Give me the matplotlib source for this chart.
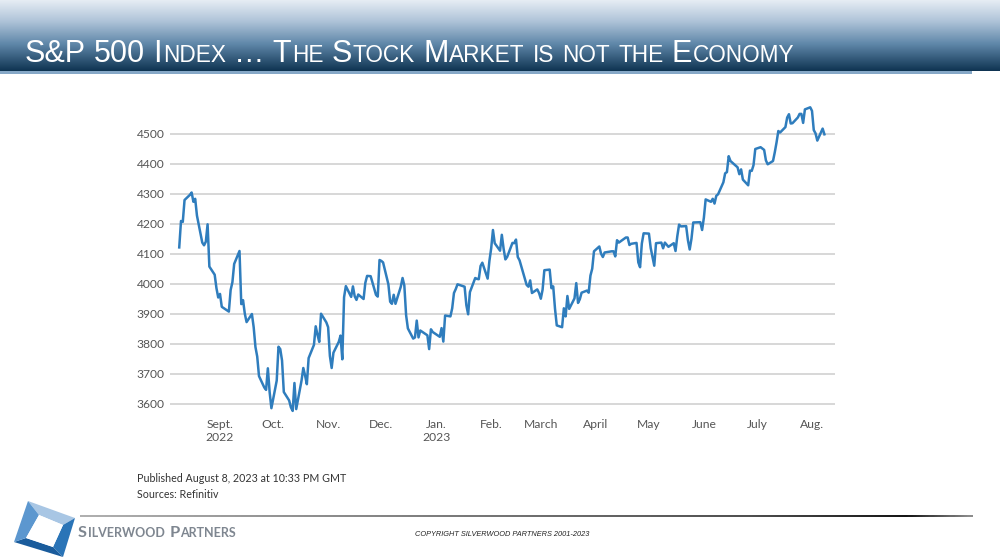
import numpy as np
import pandas as pd
import matplotlib
matplotlib.use("Agg")
import matplotlib.pyplot as plt
import matplotlib.dates as mdates
from matplotlib import font_manager
from matplotlib.colors import LinearSegmentedColormap
from matplotlib.patches import Polygon


#####################
### Data
#####################
dates = [
    "2022-08-09", "2022-08-10", "2022-08-11", "2022-08-12", "2022-08-15", "2022-08-16", "2022-08-17",
    "2022-08-18", "2022-08-19", "2022-08-22", "2022-08-23", "2022-08-24", "2022-08-25", "2022-08-26",
    "2022-08-29", "2022-08-30", "2022-08-31",
    "2022-09-01", "2022-09-02", "2022-09-06", "2022-09-07", "2022-09-08", "2022-09-09", "2022-09-12",
    "2022-09-13", "2022-09-14", "2022-09-15", "2022-09-16", "2022-09-19", "2022-09-20", "2022-09-21",
    "2022-09-22", "2022-09-23", "2022-09-26", "2022-09-27", "2022-09-28", "2022-09-29", "2022-09-30",
    "2022-10-03", "2022-10-04", "2022-10-05", "2022-10-06", "2022-10-07", "2022-10-10", "2022-10-11",
    "2022-10-12", "2022-10-13", "2022-10-14", "2022-10-17", "2022-10-18", "2022-10-19", "2022-10-20",
    "2022-10-21", "2022-10-24", "2022-10-25", "2022-10-26", "2022-10-27", "2022-10-28", "2022-10-31",
    "2022-11-01", "2022-11-02", "2022-11-03", "2022-11-04", "2022-11-07", "2022-11-08", "2022-11-09",
    "2022-11-10", "2022-11-11", "2022-11-14", "2022-11-15", "2022-11-16", "2022-11-17", "2022-11-18",
    "2022-11-21", "2022-11-22", "2022-11-23", "2022-11-25", "2022-11-28", "2022-11-29", "2022-11-30",
    "2022-12-01", "2022-12-02", "2022-12-05", "2022-12-06", "2022-12-07", "2022-12-08", "2022-12-09",
    "2022-12-12", "2022-12-13", "2022-12-14", "2022-12-15", "2022-12-16", "2022-12-19", "2022-12-20",
    "2022-12-21", "2022-12-22", "2022-12-23", "2022-12-27", "2022-12-28", "2022-12-29", "2022-12-30",
    "2023-01-03", "2023-01-04", "2023-01-05", "2023-01-06", "2023-01-09", "2023-01-10", "2023-01-11",
    "2023-01-12", "2023-01-13", "2023-01-17", "2023-01-18", "2023-01-19", "2023-01-20", "2023-01-23",
    "2023-01-24", "2023-01-25", "2023-01-26", "2023-01-27", "2023-01-30", "2023-01-31",
    "2023-02-01", "2023-02-02", "2023-02-03", "2023-02-06", "2023-02-07", "2023-02-08", "2023-02-09",
    "2023-02-10", "2023-02-13", "2023-02-14", "2023-02-15", "2023-02-16", "2023-02-17", "2023-02-21",
    "2023-02-22", "2023-02-23", "2023-02-24", "2023-02-27", "2023-02-28",
    "2023-03-01", "2023-03-02", "2023-03-03", "2023-03-06", "2023-03-07", "2023-03-08", "2023-03-09",
    "2023-03-10", "2023-03-13", "2023-03-14", "2023-03-15", "2023-03-16", "2023-03-17", "2023-03-20",
    "2023-03-21", "2023-03-22", "2023-03-23", "2023-03-24", "2023-03-27", "2023-03-28", "2023-03-29",
    "2023-03-30", "2023-03-31",
    "2023-04-03", "2023-04-04", "2023-04-05", "2023-04-06", "2023-04-10", "2023-04-11", "2023-04-12",
    "2023-04-13", "2023-04-14", "2023-04-17", "2023-04-18", "2023-04-19", "2023-04-20", "2023-04-21",
    "2023-04-24", "2023-04-25", "2023-04-26", "2023-04-27", "2023-04-28",
    "2023-05-01", "2023-05-02", "2023-05-03", "2023-05-04", "2023-05-05", "2023-05-08", "2023-05-09",
    "2023-05-10", "2023-05-11", "2023-05-12", "2023-05-15", "2023-05-16", "2023-05-17", "2023-05-18",
    "2023-05-19", "2023-05-22", "2023-05-23", "2023-05-24", "2023-05-25", "2023-05-26", "2023-05-30",
    "2023-05-31",
    "2023-06-01", "2023-06-02", "2023-06-05", "2023-06-06", "2023-06-07", "2023-06-08", "2023-06-09",
    "2023-06-12", "2023-06-13", "2023-06-14", "2023-06-15", "2023-06-16", "2023-06-20", "2023-06-21",
    "2023-06-22", "2023-06-23", "2023-06-26", "2023-06-27", "2023-06-28", "2023-06-29", "2023-06-30",
    "2023-07-03", "2023-07-05", "2023-07-06", "2023-07-07", "2023-07-10", "2023-07-11", "2023-07-12",
    "2023-07-13", "2023-07-14", "2023-07-17", "2023-07-18", "2023-07-19", "2023-07-20", "2023-07-21",
    "2023-07-24", "2023-07-25", "2023-07-26", "2023-07-27", "2023-07-28", "2023-07-31",
    "2023-08-01", "2023-08-02", "2023-08-03", "2023-08-04", "2023-08-07", "2023-08-08",
]
closes = [
    4122, 4210, 4207, 4280, 4297, 4305, 4274, 4284, 4228, 4138, 4129, 4141, 4199, 4058, 4031, 3986, 3955,
    3967, 3924, 3908, 3980, 4006, 4067, 4110, 3933, 3946, 3901, 3873, 3900, 3856, 3790, 3758, 3693, 3655,
    3647, 3719, 3640, 3586,
    3678, 3791, 3783, 3745, 3640, 3612, 3589, 3577, 3670, 3583, 3678, 3720, 3695, 3666, 3753, 3797, 3859,
    3831, 3807, 3901, 3872,
    3856, 3760, 3720, 3771, 3807, 3828, 3749, 3956, 3993, 3957, 3992, 3959, 3947, 3965, 3950, 4004, 4027,
    4026, 3964, 3958, 4080,
    4077, 4072, 3999, 3941, 3934, 3964, 3934, 3991, 4020, 3995, 3896, 3852, 3818, 3822, 3878, 3822, 3845,
    3829, 3783, 3849, 3840,
    3824, 3853, 3808, 3895, 3892, 3919, 3970, 3983, 3999, 3991, 3929, 3899, 3973, 4020, 4017, 4016, 4060,
    4071, 4018, 4077,
    4119, 4180, 4136, 4111, 4164, 4118, 4082, 4090, 4137, 4136, 4148, 4090, 4079, 3997, 3991, 4012, 3970,
    3982, 3970,
    3951, 3981, 4046, 4048, 3986, 3992, 3918, 3862, 3856, 3919, 3892, 3960, 3917, 3952, 4003, 3937, 3949,
    3971, 3978, 3971, 4028, 4051, 4109,
    4125, 4101, 4090, 4105, 4109, 4109, 4092, 4146, 4138, 4151, 4155, 4155, 4130, 4134, 4137, 4072, 4056,
    4135, 4169,
    4168, 4120, 4091, 4061, 4136, 4138, 4119, 4138, 4131, 4124, 4136, 4110, 4159, 4198, 4192, 4193, 4146,
    4115, 4151, 4205, 4206, 4180,
    4221, 4282, 4274, 4284, 4268, 4294, 4299, 4339, 4369, 4373, 4426, 4410, 4389, 4366, 4382, 4348, 4329,
    4378, 4377, 4396, 4450,
    4456, 4447, 4412, 4399, 4410, 4439, 4472, 4510, 4505, 4523, 4555, 4566, 4535, 4536, 4555, 4567, 4567,
    4537, 4582, 4589,
    4577, 4513, 4502, 4478, 4518, 4499,
]

tick_dates = ["2022-09-01", "2022-10-01", "2022-11-01", "2022-12-01", "2023-01-01", "2023-02-01",
              "2023-03-01", "2023-04-01", "2023-05-01", "2023-06-01", "2023-07-01", "2023-08-01"]
tick_labels = ["Sept.\n2022", "Oct.", "Nov.", "Dec.", "Jan.\n2023", "Feb.", "March",
               "April", "May", "June", "July", "Aug."]
y_ticks = [3600, 3700, 3800, 3900, 4000, 4100, 4200, 4300, 4400, 4500]

title = "S&P 500 Index \u2026 The Stock Market is not the Economy"
note_published = "Published August 8, 2023 at 10:33 PM GMT"
note_sources = "Sources: Refinitiv"
company = "Silverwood Partners"
copyright_text = "COPYRIGHT SILVERWOOD PARTNERS 2001-2023"


#####################
### Fonts
#####################
installed = {f.name for f in font_manager.fontManager.ttflist}
narrow = "Liberation Sans Narrow" if "Liberation Sans Narrow" in installed else "Liberation Sans"
body = "Lato"


#####################
### Functions
#####################
def small_caps(ax, x, y, s, big, small, renderer, **kw):
    # split into runs of big (upper case / symbols) and small (lower case) glyphs
    runs = []
    for ch in s:
        if ch == " ":
            runs.append([" ", None])
            continue
        is_small = ch.islower()
        c = ch.upper() if is_small else ch
        if runs and runs[-1][1] == is_small:
            runs[-1][0] += c
        else:
            runs.append([c, is_small])
    for txt, is_small in runs:
        if is_small is None:
            x += big * 100 / 72 * 0.24
            continue
        t = ax.text(x, y, txt, fontsize=small if is_small else big,
                    ha="left", va="baseline", **kw)
        x += t.get_window_extent(renderer).width + 0.8
    return x


#####################
### Main Procedure
#####################
fig = plt.figure(figsize=(10, 5.6), dpi=100)
renderer = fig.canvas.get_renderer()

# background layer in pixel coordinates
bg = fig.add_axes([0, 0, 1, 1], zorder=0)
bg.set_xlim(0, 1000)
bg.set_ylim(560, 0)
bg.axis("off")

# title bar
cmap_bar = LinearSegmentedColormap.from_list(
    "bar", [(0.0, "#e6edf4"), (0.3, "#aec3d8"), (0.62, "#5f87a9"), (1.0, "#0f3452")])
grad = np.linspace(0, 1, 200).reshape(-1, 1)
bg.imshow(grad, cmap=cmap_bar, extent=(0, 1000, 71, 0), aspect="auto", zorder=1)
bg.fill_between([0, 972], 71, 74, color="#86a8c7", lw=0, zorder=1)
small_caps(bg, 25, 62, title, 22, 16.3, renderer, color="white", family=narrow, zorder=3)

# footer
cmap_line = LinearSegmentedColormap.from_list(
    "line", [(0.0, "#b0b0b0"), (0.75, "#505050"), (0.93, "#151515"), (1.0, "#8c8c8c")])
bg.imshow(np.linspace(0, 1, 300).reshape(1, -1), cmap=cmap_line,
          extent=(80, 973, 517.5, 515.5), aspect="auto", zorder=1)

outer = [(28, 501), (75, 518), (63, 557), (14, 542)]
inner = [(39, 515), (63, 525), (53, 547), (26, 538)]
band_colors = ["#a8c6e4", "#2a74b7", "#1a5c9c", "#5c97cf"]
for i in range(4):
    j = (i + 1) % 4
    bg.add_patch(Polygon([outer[i], outer[j], inner[j], inner[i]],
                         closed=True, fc=band_colors[i], ec="none", zorder=2))
bg.add_patch(Polygon(inner, closed=True, fc="white", ec="none", zorder=2))

small_caps(bg, 78, 537, company, 11.8, 9.0, renderer,
           color="#7e8690", family=body, fontweight="bold", zorder=3)
bg.text(415, 534, copyright_text, fontsize=5.3, style="italic", color="#222222",
        family="Liberation Sans", ha="left", va="center", zorder=3)

bg.text(137, 478, note_published, fontsize=7.7, color="#333333", family=body,
        ha="left", va="center", zorder=3)
bg.text(137, 494, note_sources, fontsize=7.7, color="#333333", family=body,
        ha="left", va="center", zorder=3)

# chart
ax = fig.add_axes([0.17, 1 - 413 / 560, 0.665, 309 / 560], zorder=2)
ax.patch.set_alpha(0)
xdata = pd.to_datetime(dates)
ax.plot(xdata, closes, color="#2f7dbd", lw=1.8, solid_joinstyle="round", clip_on=False, zorder=3)

x0 = mdates.date2num(pd.Timestamp("2022-09-01")) - 50 / 1.7725
x1 = mdates.date2num(pd.Timestamp("2023-08-01")) + 23 / 1.7725
ax.set_xlim(x0, x1)
ax.set_ylim(3570, 4600)

ax.set_yticks(y_ticks)
ax.set_yticklabels([str(v) for v in y_ticks])
ax.set_xticks(pd.to_datetime(tick_dates))
ax.set_xticklabels(tick_labels, linespacing=1.25)
ax.tick_params(axis="both", length=0, labelsize=8.7, labelcolor="#555555")
ax.tick_params(axis="y", pad=4)
ax.tick_params(axis="x", pad=4)
for lab in ax.get_xticklabels() + ax.get_yticklabels():
    lab.set_family(body)

ax.grid(axis="y", color="#d4d4d4", lw=1.3)
ax.grid(axis="x", visible=False)
ax.set_axisbelow(True)
for sp in ax.spines.values():
    sp.set_visible(False)

plt.savefig("out.png", dpi=100)
